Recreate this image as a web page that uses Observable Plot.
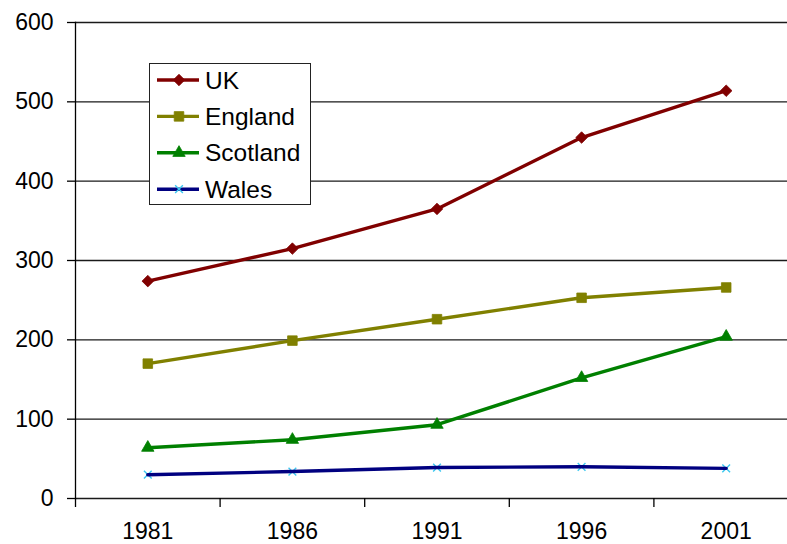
<!DOCTYPE html>
<html>
<head>
<meta charset="utf-8">
<script src="https://cdn.jsdelivr.net/npm/d3@7"></script>
<script src="https://cdn.jsdelivr.net/npm/@observablehq/plot@0.6"></script>
<style>
  html, body { margin: 0; padding: 0; background: #fff; }
  #chart { position: relative; width: 787px; height: 544px; overflow: hidden; }
  #chart > svg { position: absolute; left: 0; top: 0; max-width: none !important; }
  #legend { position: absolute; left: 149px; top: 63px; width: 160px; height: 140px;
            border: 1px solid #222; background: #fff; }
  #legend svg { display: block; }
</style>
</head>
<body>
<div id="chart"><div id="legend"></div></div>
<script>
// Census years and series values
const years = ["1981", "1986", "1991", "1996", "2001"];
const uk = [274, 315, 365, 455, 514];
const england = [170, 199, 226, 253, 266];
const scotland = [64, 74, 93, 152, 204];
const wales = [30, 34, 39, 40, 38];
const yTicks = [0, 100, 200, 300, 400, 500, 600];

const seriesNames = ["UK", "England", "Scotland", "Wales"];
const seriesValues = [uk, england, scotland, wales];

// Line and marker styling per series
const styles = {
  UK:       { color: "#800000", symbol: "diamond2", r: 5.2, marker: "#800000" },
  England:  { color: "#808000", symbol: "square",   r: 5.4, marker: "#808000" },
  Scotland: { color: "#008000", symbol: "triangle", r: 4.6, marker: "#008000" },
  Wales:    { color: "#000080", symbol: "times",    r: 3.6, marker: "#3cc8f0" }
};

const rows = seriesNames.flatMap((name, s) =>
  seriesValues[s].map((value, i) => ({ series: name, i, value }))
);

const idx = years.map((_, i) => i);
const bounds = d3.range(years.length + 1).map(i => i - 0.5);
const font = "'Liberation Sans', Arial, Helvetica, sans-serif";

function dotsFor(name) {
  const st = styles[name];
  const data = rows.filter(d => d.series === name);
  const filled = st.symbol !== "times";
  return Plot.dot(data, {
    x: "i", y: "value", symbol: () => st.symbol, r: st.r,
    fill: filled ? st.marker : "none",
    stroke: st.marker, strokeWidth: filled ? 0.8 : 1.4
  });
}

const chart = Plot.plot({
  width: 798,
  height: 544,
  marginTop: 22,
  marginBottom: 46,
  marginLeft: 75,
  marginRight: 0,
  style: { fontFamily: font, color: "#000", background: "#fff", maxWidth: "none" },
  x: { type: "linear", domain: [-0.5, years.length - 0.5] },
  y: { domain: [0, 600] },
  symbol: { type: "identity" },
  marks: [
    Plot.ruleY(yTicks, { stroke: "#1a1a1a", strokeWidth: 1.3 }),
    Plot.frame({ anchor: "left", stroke: "#000", strokeWidth: 1.3 }),
    Plot.axisY({ ticks: yTicks, tickSize: 8, tickPadding: 14, fontSize: 23, label: null, strokeWidth: 1.3 }),
    Plot.axisX({ ticks: bounds, tickSize: 9, tickFormat: () => "", label: null, strokeWidth: 1.3 }),
    Plot.axisX({ ticks: idx, tickSize: 0, tickPadding: 24, tickFormat: i => years[i], fontSize: 23, label: null }),
    dotsFor("Wales"),
    ...seriesNames.map(name =>
      Plot.line(rows.filter(d => d.series === name), {
        x: "i", y: "value", stroke: styles[name].color, strokeWidth: 3.4
      })
    ),
    dotsFor("UK"),
    dotsFor("England"),
    dotsFor("Scotland")
  ]
});
document.getElementById("chart").prepend(chart);

// Legend box
const symbolTypes = {
  diamond2: d3.symbolDiamond2, square: d3.symbolSquare,
  triangle: d3.symbolTriangle, times: d3.symbolTimes
};
const lsvg = d3.select("#legend").append("svg")
  .attr("width", 160).attr("height", 140)
  .style("font-family", font);
const item = lsvg.selectAll("g").data(seriesNames).join("g")
  .attr("transform", (d, k) => `translate(0,${16 + k * 36.4})`);
item.append("line")
  .attr("x1", 7).attr("x2", 49)
  .attr("stroke", d => styles[d].color).attr("stroke-width", 3.4);
item.append("path")
  .attr("transform", "translate(29,0)")
  .attr("d", d => d3.symbol(symbolTypes[styles[d].symbol], Math.PI * styles[d].r ** 2)())
  .attr("fill", d => styles[d].symbol === "times" ? "none" : styles[d].marker)
  .attr("stroke", d => styles[d].marker)
  .attr("stroke-width", d => styles[d].symbol === "times" ? 1.4 : 0.8);
item.append("text")
  .attr("x", 55).attr("dy", "0.35em")
  .attr("font-size", 24.5).attr("fill", "#000")
  .text(d => d);
</script>
</body>
</html>
